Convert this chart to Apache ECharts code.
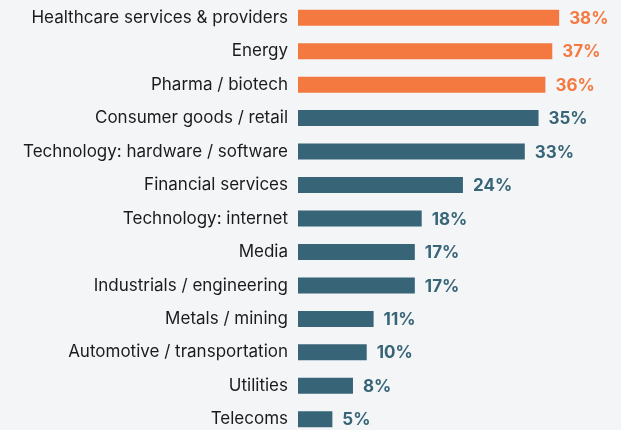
<!DOCTYPE html>
<html>
<head>
<meta charset="utf-8">
<script src="https://cdn.jsdelivr.net/npm/echarts@6/dist/echarts.min.js"></script>
<style>
  html, body { margin: 0; padding: 0; background: #f4f5f7; overflow: hidden; }
  #chart { width: 621px; height: 436px; }
</style>
</head>
<body>
<div id="chart"></div>
<script>
// Sectors, listed top to bottom
const sectors = [
  'Healthcare services & providers',
  'Energy',
  'Pharma / biotech',
  'Consumer goods / retail',
  'Technology: hardware / software',
  'Financial services',
  'Technology: internet',
  'Media',
  'Industrials / engineering',
  'Metals / mining',
  'Automotive / transportation',
  'Utilities',
  'Telecoms'
];
// Share of respondents, percent
const shares = [38, 37, 36, 35, 33, 24, 18, 17, 17, 11, 10, 8, 5];
// Number of top sectors drawn in the highlight colour
const highlightCount = 3;

const ORANGE = '#f47940';
const TEAL = '#376577';

const chart = echarts.init(document.getElementById('chart'));
chart.setOption({
  backgroundColor: '#f4f5f7',
  animation: false,
  grid: { left: 298, right: 0, top: 1, bottom: 0, containLabel: false },
  xAxis: {
    type: 'value', min: 0, max: 47,
    show: false
  },
  yAxis: {
    type: 'category',
    inverse: true,
    data: sectors,
    axisLine: { show: false },
    axisTick: { show: false },
    splitLine: { show: false },
    axisLabel: {
      margin: 10,
      color: '#1b1b1b',
      fontFamily: 'Inter',
      fontSize: 17
    }
  },
  series: [{
    type: 'bar',
    barWidth: 16,
    data: shares.map((v, i) => ({
      value: v,
      itemStyle: { color: i < highlightCount ? ORANGE : TEAL },
      label: { color: i < highlightCount ? ORANGE : TEAL }
    })),
    label: {
      show: true,
      position: 'right',
      distance: 10,
      formatter: '{c}%',
      fontFamily: 'Inter',
      fontWeight: 'bold',
      fontSize: 17,
      offset: [0, 1]
    }
  }]
});
</script>
</body>
</html>
